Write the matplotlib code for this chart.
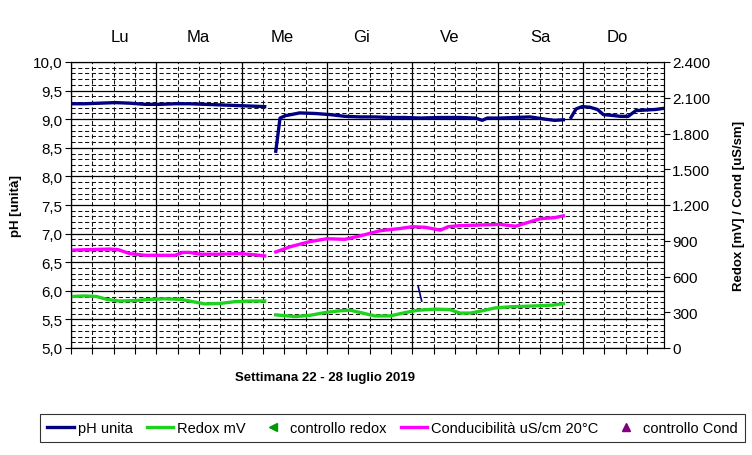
import numpy as np
import matplotlib
matplotlib.use("Agg")
import matplotlib.pyplot as plt
from matplotlib.ticker import MultipleLocator, FuncFormatter
from matplotlib.lines import Line2D

plt.rcParams['font.family'] = ['Liberation Sans', 'DejaVu Sans']

# tempo in giorni dall'inizio della settimana (lunedi 00:00)
ph_t = [0.0, 0.16, 0.34, 0.52, 0.69, 0.87, 1.04, 1.22, 1.39, 1.57, 1.75, 1.92, 2.10, 2.27,
        2.30,
        2.40, 2.45, 2.51, 2.68, 2.86, 3.04, 3.21, 3.39, 3.56, 3.74, 3.92, 4.09, 4.33, 4.56,
        4.74, 4.82, 4.88, 5.03, 5.21, 5.38, 5.56, 5.67, 5.77,
        5.80,
        5.86, 5.92, 5.99, 6.08, 6.17, 6.24, 6.32, 6.44, 6.53, 6.62, 6.73, 6.85, 6.95]
ph = [9.27, 9.27, 9.28, 9.29, 9.28, 9.26, 9.26, 9.27, 9.27, 9.26, 9.25, 9.24, 9.23, 9.22,
      np.nan,
      8.44, 9.02, 9.06, 9.11, 9.10, 9.08, 9.05, 9.04, 9.04, 9.03, 9.03, 9.02, 9.03, 9.03,
      9.02, 8.98, 9.02, 9.02, 9.03, 9.04, 9.00, 8.98, 8.99,
      np.nan,
      9.03, 9.18, 9.22, 9.21, 9.17, 9.08, 9.07, 9.05, 9.05, 9.15, 9.16, 9.17, 9.19]

# piccolo tratto isolato pH
ph_extra_t = [4.07, 4.11]
ph_extra = [6.07, 5.82]

redox_t = [0.0, 0.16, 0.30, 0.42, 0.57, 0.75, 0.92, 1.10, 1.28, 1.39, 1.57, 1.75, 1.92, 2.10, 2.27,
           2.30,
           2.40, 2.63, 2.80, 2.98, 3.15, 3.27, 3.39, 3.56, 3.74, 3.92, 4.07, 4.27, 4.44, 4.56,
           4.68, 4.82, 4.97, 5.15, 5.32, 5.50, 5.65, 5.77]
redox = [432, 437, 432, 408, 394, 398, 408, 413, 408, 394, 370, 374, 389, 394, 394,
         np.nan,
         278, 264, 274, 298, 312, 317, 298, 269, 269, 298, 317, 326, 322, 293,
         293, 312, 336, 346, 350, 355, 360, 372]

cond_t = [0.0, 0.22, 0.46, 0.55, 0.69, 0.87, 1.04, 1.22, 1.31, 1.39, 1.51, 1.75, 1.98, 2.16, 2.27,
          2.30,
          2.40, 2.57, 2.80, 3.00, 3.21, 3.39, 3.62, 3.86, 4.00, 4.15, 4.33, 4.42, 4.56, 4.79,
          5.03, 5.21, 5.32, 5.50, 5.67, 5.77]
cond = [821, 826, 830, 826, 792, 778, 778, 778, 802, 802, 787, 787, 792, 782, 773,
        np.nan,
        806, 850, 893, 917, 912, 941, 984, 1003, 1018, 1013, 989, 1018, 1027, 1032,
        1037, 1022, 1046, 1085, 1094, 1109]

giorni = ["Lu", "Ma", "Me", "Gi", "Ve", "Sa", "Do"]
giorni_x = [0.57, 1.49, 2.47, 3.41, 4.44, 5.50, 6.40]

fig = plt.figure(figsize=(7.52, 4.56), dpi=100)
ax = fig.add_axes([71/752, 1 - 349/456, 593/752, 286/456])
ax2 = ax.twinx()

ax.set_xlim(0, 6.95)
ax.set_ylim(5, 10)
ax2.set_ylim(0, 2400)

ax.xaxis.set_major_locator(MultipleLocator(1))
ax.xaxis.set_minor_locator(MultipleLocator(0.25))
ax.yaxis.set_major_locator(MultipleLocator(0.5))
ax.yaxis.set_minor_locator(MultipleLocator(0.1))
ax2.yaxis.set_major_locator(MultipleLocator(300))

ax.grid(which='major', color='black', lw=0.9, ls='-')
ax.grid(which='minor', color='#111111', lw=0.75, ls=(0, (4, 2.5)))
ax.set_axisbelow(True)

ax.xaxis.set_major_formatter(FuncFormatter(lambda v, p: ""))
ax.yaxis.set_major_formatter(FuncFormatter(lambda v, p: f"{v:.1f}".replace('.', ',')))
ax2.yaxis.set_major_formatter(FuncFormatter(lambda v, p: f"{int(v):,}".replace(',', '.')))

ax.tick_params(axis='x', which='both', direction='out', length=4, width=0.8, color='black')
ax.tick_params(axis='y', which='major', direction='out', length=4, width=0.8, labelsize=11, pad=2)
ax.tick_params(axis='y', which='minor', length=0)
ax2.tick_params(axis='y', which='major', direction='out', length=4, width=0.8, labelsize=11, pad=2)

for s in ax.spines.values():
    s.set_color('black')
    s.set_linewidth(0.8)

ax.plot(ph_t, ph, color='#000080', lw=2.4, zorder=5)
ax.plot(ph_extra_t, ph_extra, color='#000080', lw=1.2, zorder=5)
ax2.plot(redox_t, redox, color='#1ed31e', lw=2.4)
ax2.plot(cond_t, cond, color='#ff00ff', lw=2.4)

for g, xg in zip(giorni, giorni_x):
    ax.text(xg, 1.088, g, transform=ax.get_xaxis_transform(), ha='center', va='center', fontsize=12)

ax.text(2.98, -0.10, "Settimana 22 - 28 luglio 2019", transform=ax.get_xaxis_transform(),
        ha='center', va='center', fontsize=9.5, fontweight='bold')

ax.set_ylabel("pH [unità]", fontsize=9.5, fontweight='bold', labelpad=8)
ax2.set_ylabel("Redox [mV] / Cond [uS/sm]", fontsize=9.5, fontweight='bold', labelpad=16)

handles = [
    Line2D([], [], color='#000080', lw=2.4),
    Line2D([], [], color='#1ed31e', lw=2.4),
    Line2D([], [], color='#009900', marker='<', ls='none', ms=6),
    Line2D([], [], color='#ff00ff', lw=2.4),
    Line2D([], [], color='#800080', marker='^', ls='none', ms=6),
]
labels = ["pH unita", "Redox mV", "controllo redox", "Conducibilità uS/cm 20°C", "controllo Cond"]
leg = fig.legend(handles, labels, loc='center', bbox_to_anchor=(0.522, 0.059), ncol=5,
                 frameon=True, fancybox=False, edgecolor='black', handlelength=1.8,
                 handletextpad=0.3, columnspacing=0.95, borderpad=0.5,
                 prop={'size': 10.5})
leg.get_frame().set_linewidth(0.8)

fig.savefig("out.png", dpi=100)
